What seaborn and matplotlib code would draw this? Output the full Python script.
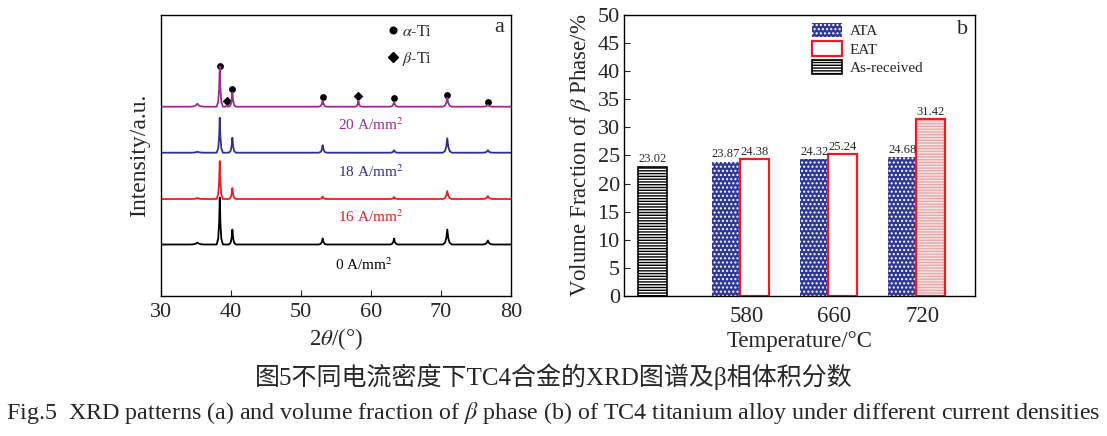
import numpy as np
import pandas as pd
import matplotlib
matplotlib.use("Agg")
import matplotlib.pyplot as plt
import seaborn as sns
from matplotlib.lines import Line2D
from matplotlib.patches import Patch, Rectangle
from matplotlib.transforms import ScaledTranslation

# ---------------- data: XRD patterns (panel a) ----------------
peak_pos = [35.2, 38.4, 39.4, 40.2, 53.1, 58.2, 63.3, 70.9, 76.7]
peak_hw = [1.0, 0.45, 0.3, 0.5, 0.55, 0.45, 0.55, 0.65, 0.7]
int_0 = [2, 47, 0, 15, 6, 0, 6, 15, 4]
int_16 = [1, 38, 0, 11, 2.5, 0, 2, 8, 3]
int_18 = [1, 35, 0, 15, 7.5, 0, 2.5, 14.5, 2.5]
int_20 = [3, 40, 1.5, 14, 6, 6, 5, 9, 2]
baselines = [51.5, 97, 143.3, 189.3]
series_labels = ["0 A/mm$^{2}$", "16 A/mm$^{2}$", "18 A/mm$^{2}$", "20 A/mm$^{2}$"]
label_x = [59.0, 59.9, 59.9, 59.9]
label_y = [31, 79, 124, 171]
alpha_x = [38.4, 40.2, 53.1, 63.3, 70.9, 76.7]
alpha_y = [230, 207, 199, 198, 201, 194]
beta_x = [39.4, 58.2]
beta_y = [195, 200]

# ---------------- data: beta volume fraction (panel b) ----------------
temps = ["580", "660", "720"]
ata = [23.87, 24.32, 24.68]
eat = [24.38, 25.24, 31.42]
as_received = [23.02]

colors_a = ["#000000", "#ed1c24", "#2e3192", "#9e2a8e"]
navy = "#2f3894"

sns.set_style("ticks")
plt.rcParams["font.family"] = ["Liberation Serif", "DejaVu Serif"]
plt.rcParams["mathtext.fontset"] = "stix"
plt.rcParams["hatch.linewidth"] = 1.0

fig = plt.figure(figsize=(11.07, 4.36), dpi=100)
ax1 = fig.add_axes([0.1454, 0.3211, 0.3162, 0.6445])
ax2 = fig.add_axes([0.5637, 0.3211, 0.3171, 0.6445])


def build_curve(base, ints):
    xs, ys = [30.0], [base]
    for p, w, h in zip(peak_pos, peak_hw, ints):
        if h <= 0:
            continue
        xs += [p - w, p - 0.5 * w, p - 0.2 * w, p, p + 0.2 * w, p + 0.5 * w, p + w]
        ys += [base, base + 0.12 * h, base + 0.45 * h, base + h,
               base + 0.45 * h, base + 0.12 * h, base]
    xs.append(80.0)
    ys.append(base)
    return xs, ys


for base, ints, col in zip(baselines, [int_0, int_16, int_18, int_20], colors_a):
    xs, ys = build_curve(base, ints)
    sns.lineplot(x=xs, y=ys, ax=ax1, color=col, lw=1.3, sort=False, estimator=None)

for lx, ly, lab, col in zip(label_x, label_y, series_labels, colors_a):
    ax1.text(lx, ly, lab, color=col, fontsize=11, ha="center", va="center")

sns.scatterplot(x=alpha_x, y=alpha_y, ax=ax1, color="black", marker="o", s=24, linewidth=0)
sns.scatterplot(x=beta_x, y=beta_y, ax=ax1, color="black", marker="D", s=24, linewidth=0)

leg_handles = [
    Line2D([], [], marker="o", color="black", ls="none", markersize=4.8),
    Line2D([], [], marker="D", color="black", ls="none", markersize=4.8),
]
ax1.legend(leg_handles, [r"$\alpha$-Ti", r"$\beta$-Ti"], loc="upper left",
           bbox_to_anchor=(0.61, 1.02), frameon=False, fontsize=11.5,
           handlelength=0.5, handletextpad=0.3, labelspacing=0.62)

ax1.text(0.965, 0.955, "a", transform=ax1.transAxes, fontsize=16, ha="center", va="center")
ax1.set_xlim(30, 80)
ax1.set_ylim(0, 281)
ax1.set_xticks([30, 40, 50, 60, 70, 80])
ax1.set_yticks([])
ax1.tick_params(axis="x", direction="in", length=4, labelsize=16, pad=5)
ax1.set_xlabel(r"2$\theta$/(°)", fontsize=16.5, labelpad=3)
ax1.set_ylabel("Intensity/a.u.", fontsize=17, labelpad=8)
for sp in ax1.spines.values():
    sp.set_visible(True)
    sp.set_linewidth(1.0)
    sp.set_color("black")

# ---------------- panel b ----------------
order = [""] + temps
df = pd.DataFrame({
    "temp": temps * 2,
    "value": ata + eat,
    "series": ["ATA"] * 3 + ["EAT"] * 3,
})
sns.barplot(data=df, x="temp", y="value", hue="series", order=order,
            hue_order=["ATA", "EAT"], width=0.65, dodge=True, errorbar=None,
            legend=False, ax=ax2)
sns.barplot(x=[""], y=as_received, order=order, width=0.325, errorbar=None, ax=ax2)

cont_ata, cont_eat, cont_as = ax2.containers[0], ax2.containers[1], ax2.containers[2]
for p in cont_ata:
    p.set_facecolor(navy)
    p.set_edgecolor("white")
    p.set_hatch("....")
    p.set_linewidth(0)
for i, p in enumerate(cont_eat):
    if i < 2:
        p.set_facecolor("white")
        p.set_edgecolor("#ed1c24")
        p.set_linewidth(1.6)
    else:
        p.set_facecolor("#f7e3e3")
        p.set_edgecolor("#e7aaaa")
        p.set_hatch("------")
        p.set_linewidth(0)
        ax2.add_patch(Rectangle((p.get_x(), p.get_y()), p.get_width(), p.get_height(),
                                fill=False, ec="#ed1c24", lw=1.6, zorder=p.get_zorder() + 0.1))
for p in cont_as:
    p.set_facecolor("white")
    p.set_edgecolor("black")
    p.set_hatch("------")
    p.set_linewidth(1.2)

for c in (cont_ata, cont_eat, cont_as):
    ax2.bar_label(c, fmt="%.2f", fontsize=9, padding=1)

handles2 = [
    Patch(facecolor=navy, edgecolor="white", hatch="....", linewidth=0),
    Patch(facecolor="white", edgecolor="#ed1c24", linewidth=1.6),
    Patch(facecolor="white", edgecolor="black", hatch="------", linewidth=1.2),
]
ax2.legend(handles2, ["ATA", "EAT", "As-received"], loc="upper left",
           bbox_to_anchor=(0.495, 1.02), frameon=False, fontsize=11,
           handlelength=2.0, handleheight=1.05, handletextpad=0.5, labelspacing=0.2)

ax2.text(0.963, 0.95, "b", transform=ax2.transAxes, fontsize=16, ha="center", va="center")
ax2.set_xlim(-0.32, 3.665)
ax2.set_ylim(0, 50)
ax2.set_yticks(np.arange(0, 51, 5))
ax2.tick_params(axis="y", direction="in", length=4, labelsize=16, pad=3)
ax2.tick_params(axis="x", length=0, labelsize=16.5, pad=7)
for lab in ax2.get_xticklabels():
    lab.set_transform(lab.get_transform() + ScaledTranslation(6 / 100, 0, fig.dpi_scale_trans))
ax2.set_xlabel("Temperature/°C", fontsize=16.5, labelpad=3)
ax2.set_ylabel(r"Volume Fraction of $\beta$ Phase/%", fontsize=16.5, labelpad=3)
for sp in ax2.spines.values():
    sp.set_visible(True)
    sp.set_linewidth(1.0)
    sp.set_color("black")

# ---------------- captions ----------------
fig.text(0.5, 1 - 377 / 436, "图5不同电流密度下TC4合金的XRD图谱及β相体积分数",
         family=["Liberation Serif", "Noto Sans CJK SC"], fontsize=18,
         ha="center", va="center")
fig.text(0.5, 1 - 413 / 436,
         r"Fig.5  XRD patterns (a) and volume fraction of $\beta$ phase (b) of TC4 titanium alloy under different current densities",
         fontsize=17.3, ha="center", va="center")

fig.savefig("out.png", dpi=100)
